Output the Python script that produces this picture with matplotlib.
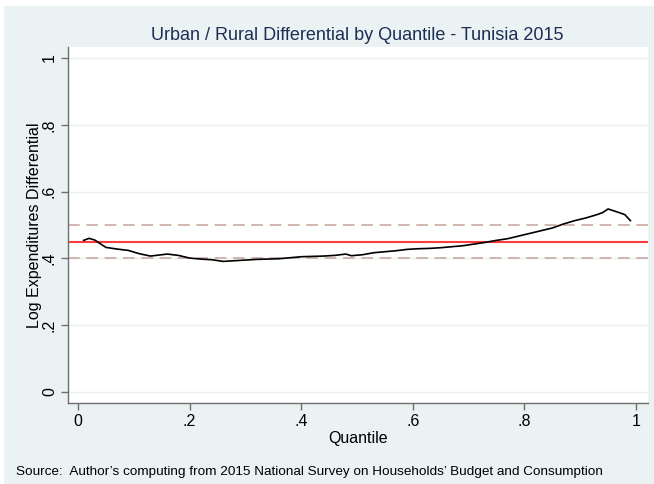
import matplotlib
matplotlib.use("Agg")
import matplotlib.pyplot as plt
from matplotlib.patches import Rectangle

plt.rcParams['font.family'] = ['Liberation Sans', 'DejaVu Sans']

# Quantile regression differential (urban vs rural log expenditure)
quantiles = [0.01, 0.02, 0.03, 0.05, 0.07, 0.09, 0.11, 0.13, 0.14, 0.16, 0.18, 0.20,
             0.22, 0.24, 0.26, 0.28, 0.30, 0.32, 0.34, 0.36, 0.38, 0.40, 0.42,
             0.44, 0.46, 0.48, 0.49, 0.51, 0.53, 0.55, 0.57, 0.59, 0.61, 0.63,
             0.65, 0.67, 0.69, 0.71, 0.73, 0.75, 0.77, 0.79, 0.81, 0.83, 0.85,
             0.87, 0.89, 0.91, 0.93, 0.94, 0.95, 0.97, 0.98, 0.99]
differential = [0.454, 0.460, 0.455, 0.433, 0.428, 0.424, 0.414, 0.407, 0.409, 0.413,
                0.409, 0.401, 0.398, 0.396, 0.391, 0.393, 0.395, 0.397, 0.398, 0.399,
                0.402, 0.405, 0.406, 0.407, 0.409, 0.413, 0.408, 0.411, 0.417, 0.420,
                0.423, 0.427, 0.429, 0.430, 0.432, 0.435, 0.438, 0.443, 0.448, 0.454,
                0.459, 0.467, 0.475, 0.483, 0.491, 0.503, 0.513, 0.521, 0.531, 0.537,
                0.548, 0.537, 0.531, 0.513]

mean_diff = 0.45
band_low = 0.40
band_high = 0.50

x_ticks = [0, 0.2, 0.4, 0.6, 0.8, 1.0]
x_tick_labels = ["0", ".2", ".4", ".6", ".8", "1"]
y_ticks = [0, 0.2, 0.4, 0.6, 0.8, 1.0]
y_tick_labels = ["0", ".2", ".4", ".6", ".8", "1"]

W, H = 654, 484
fig = plt.figure(figsize=(W / 100, H / 100), dpi=100, facecolor='white')
bg = '#EAF2F3'
fig.patches.append(Rectangle((4 / W, 0), 1 - 4 / W, 1 - 6 / H,
                             transform=fig.transFigure, facecolor=bg,
                             edgecolor='none', zorder=-10))

ax = fig.add_axes([68 / W, 1 - 403 / H, (648 - 68) / W, (403 - 47) / H])
ax.set_facecolor('white')

ax.set_xlim(-0.0179, 1.0215)
ax.set_ylim(-0.0329, 1.0329)

for yt in y_ticks:
    ax.axhline(yt, color='#E8F0F2', lw=1.0, zorder=0)

ax.axhline(band_high, color='#C9AAA2', lw=1.2, ls=(0, (7, 4)), zorder=1)
ax.axhline(band_low, color='#C9AAA2', lw=1.2, ls=(0, (7, 4)), zorder=1)
ax.axhline(mean_diff, color='#FF3B3B', lw=1.5, zorder=2)
ax.plot(quantiles, differential, color='black', lw=1.2, zorder=3)

for side in ['top', 'right']:
    ax.spines[side].set_visible(False)
for side in ['left', 'bottom']:
    ax.spines[side].set_color('#6E6E6E')
    ax.spines[side].set_linewidth(1.0)

ax.set_xticks(x_ticks)
ax.set_xticklabels(x_tick_labels)
ax.set_yticks(y_ticks)
ax.set_yticklabels(y_tick_labels, rotation=90, va='center')
ax.tick_params(axis='both', length=5, width=1, color='#6E6E6E',
               labelsize=11.5, labelcolor='black', pad=3)

ax.set_xlabel('Quantile', fontsize=11.5, labelpad=1)
ax.set_ylabel('Log Expenditures Differential', fontsize=11.5, labelpad=0)

fig.text((78 + 636) / 2 / W, 1 - 35 / H,
         'Urban / Rural Differential by Quantile - Tunisia 2015',
         ha='center', va='center', fontsize=13, color='#1E2D53')

fig.text(16 / W, 1 - 472 / H,
         "Source:  Author\u2019s computing from 2015 National Survey on Households\u2019 Budget and Consumption",
         ha='left', va='center', fontsize=9.7, color='black')

fig.savefig('out.png', dpi=100, facecolor=fig.get_facecolor())
